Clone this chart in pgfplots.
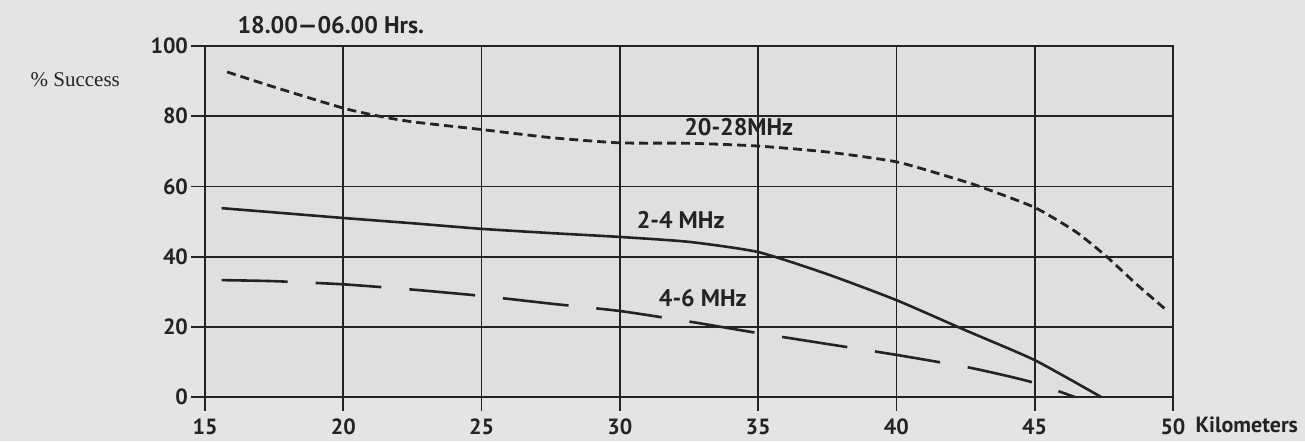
\documentclass[border=0pt]{standalone}
\usepackage{pgfplots}
\pgfplotsset{compat=1.18}
\usetikzlibrary{backgrounds}
\usepackage{fontspec}
\setmainfont{PT Sans}
\newfontfamily\seriffont{Liberation Serif}
\definecolor{bgc}{RGB}{228,228,228}
\definecolor{plotbg}{RGB}{223,223,223}
\definecolor{linec}{RGB}{35,35,35}
\begin{document}
\begin{tikzpicture}
\begin{axis}[
  width=484pt, height=175.5pt, scale only axis,
  xmin=15, xmax=50, ymin=0, ymax=100,
  xtick={15,20,...,50}, ytick={0,20,...,100},
  grid=major,
  grid style={line width=0.9pt, draw=linec},
  axis line style={line width=0.9pt, draw=linec},
  axis background/.style={fill=plotbg},
  tick pos=left, tick align=outside,
  major tick length=7pt,
  tick style={line width=0.9pt, color=linec},
  /pgf/number format/assume math mode=true,
  ticklabel style={font=\bfseries\fontsize{11}{13}\selectfont, text=linec},
  xticklabel style={yshift=-0.5pt},
  yticklabel style={xshift=2pt},
  clip=false,
]
% 20-28 MHz
\addplot[linec, line width=1.4pt, dash pattern=on 4.5pt off 2.5pt, smooth, tension=0.35] coordinates {
(15.8,92.6) (17.5,88.3) (20,82.3) (21.3,80) (22.5,78.4) (25,76.2) (27.5,73.9) (30,72.4)
(32.5,72.3) (35,71.5) (37.5,69.8) (40,67) (42,62.5) (43,60) (45,54) (46.5,47)
(47.6,40) (48.7,32) (49.8,24.5)
};
% 2-4 MHz
\addplot[linec, line width=1.3pt, smooth, tension=0.35] coordinates {
(15.6,53.8) (17.5,52.6) (20,51.0) (22.5,49.5) (25,47.9) (27.5,46.7) (30,45.6)
(32.5,44.2) (35,41.3) (37.5,35) (40,27.6) (42.5,19) (45,10.5) (47.4,0)
};
% 4-6 MHz
\addplot[linec, line width=1.3pt, dash pattern=on 33pt off 14pt, smooth, tension=0.35] coordinates {
(15.6,33.3) (17.5,33.0) (20,32.1) (22.5,30.6) (25,28.8) (27.5,26.6) (30,24.5)
(32.5,21.5) (35,18.2) (37.5,15.1) (40,12) (42.5,8.6) (44,6) (45,4) (46.45,0)
};
\node[font=\bfseries\fontsize{12}{14}\selectfont, text=linec] at (axis cs:34.3,76.8) {20-28MHz};
\node[font=\bfseries\fontsize{12}{14}\selectfont, text=linec] at (axis cs:32.2,50.4) {2-4 MHz};
\node[font=\bfseries\fontsize{12}{14}\selectfont, text=linec] at (axis cs:33.0,28.2) {4-6 MHz};
\node[font=\bfseries\fontsize{12}{14}\selectfont, text=linec] at (rel axis cs:0.130,1.06) {18.00---06.00 Hrs.};
\node[font=\seriffont\fontsize{10.5}{12}\selectfont, text=linec] at (rel axis cs:-0.134,0.905) {\% Success};
\node[font=\bfseries\fontsize{11}{13}\selectfont, text=linec, anchor=west] at (rel axis cs:1.016,-0.08) {Kilometers};
\coordinate (BL) at (rel axis cs:-0.2118,-0.1254);
\coordinate (TR) at (rel axis cs:1.1364,1.1311);
\end{axis}
\pgfresetboundingbox
\path[use as bounding box] (BL) rectangle (TR);
\begin{scope}[on background layer]
\fill[bgc] (BL) rectangle (TR);
\end{scope}
\end{tikzpicture}
\end{document}
